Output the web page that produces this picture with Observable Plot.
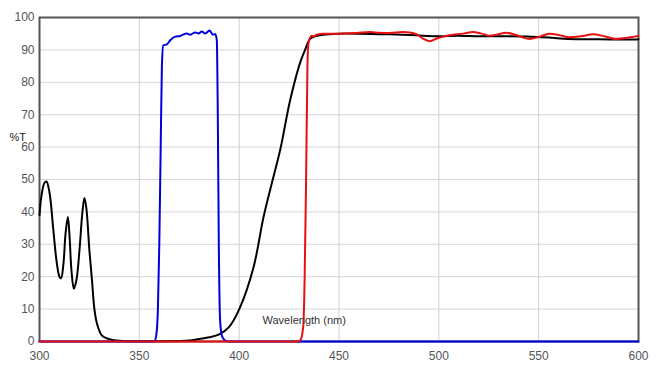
<!DOCTYPE html>
<html>
<head>
<meta charset="utf-8">
<script src="https://cdn.jsdelivr.net/npm/d3@7"></script>
<script src="https://cdn.jsdelivr.net/npm/@observablehq/plot@0.6"></script>
<style>
  html, body { margin: 0; padding: 0; background: #fff; }
  #chart svg { display: block; font-family: "Liberation Sans", Arial, sans-serif; }
</style>
</head>
<body>
<div id="chart"></div>
<script>
// Wavelength (nm) and %T for each curve
const blackWl = [300,301,302.5,303.5,305,307,308.5,310,310.8,312,313,314.2,315,316,317.2,318.5,320,321.5,322.5,323.5,325,326.3,327.5,328.8,331.3,335.5,340,360,375,380,385,390,395,400.5,407.2,412.2,416,420.5,425.5,430.5,433,435.5,438,442,450,460,475,485,492,500,510,520,530,544,555,565,580,598,600];
const blackT  = [39,45,49,49.4,46,34,25,20,19.5,24,33,38.4,33,22,16.3,19,28,40,44.3,41,28,18.8,10,5.5,1.8,0.6,0.2,0.1,0.3,0.8,1.3,2.2,4.5,10.6,22.9,38.4,48,59,74.4,86,90,93.4,94.2,94.7,95,95,94.8,94.6,94.4,94.2,94.4,94.2,94.2,94.1,93.8,93.4,93.3,93.2,93.3];

const blueWl = [300,357.5,358.5,359.3,360,360.7,361.3,362,363.8,365.5,368,370.5,373.8,375.5,378,379.7,381.3,383,385.2,386.8,388,388.8,389.3,389.8,390.5,391.5,393,395,600];
const blueT  = [0,0,2,10,30,60,85,91.4,91.7,93,94.1,94.3,95.1,94.7,95.4,95.1,95.7,95.1,96,94.7,94.9,93,70,30,6,1.5,0.3,0,0];

const redWl = [300,429,430.5,431.5,432.2,432.8,433.5,434.2,434.7,436.3,437.2,438.5,442.2,450.5,458.8,465.5,470,475.5,482,485.5,489,492,495.5,499,502.2,508.8,513,517,521,525.5,529,533.8,539,545.5,550,555.5,560,565.5,571,577.2,583,588.8,594,598,600];
const redT  = [0,0,0.3,2,5.5,20,48.8,85,92,94.4,94.1,94.6,95,95,95.2,95.5,95.3,95.2,95.5,95.4,94.8,93.5,92.7,93.5,94.1,94.8,95.1,95.5,95.1,94.4,94.7,95.3,94.5,93.4,94,95,94.6,93.9,94.2,94.8,94.2,93.4,93.7,94.1,94.3];

const xTicks = [300,350,400,450,500,550,600];
const yTicks = [0,10,20,30,40,50,60,70,80,90,100];
const xLabel = "Wavelength (nm)";
const yLabel = "%T";

const toRows = (wl, t) => wl.map((w, i) => ({w, t: t[i]}));
const black = toRows(blackWl, blackT);
const blue = toRows(blueWl, blueT);
const red = toRows(redWl, redT);

const chart = Plot.plot({
  width: 659,
  height: 376,
  marginLeft: 39,
  marginRight: 21,
  marginTop: 17,
  marginBottom: 35,
  style: {fontFamily: "Liberation Sans, Arial, sans-serif", fontSize: "12px", color: "#555", background: "#fff"},
  x: {domain: [300, 600]},
  y: {domain: [0, 100]},
  marks: [
    Plot.gridX(xTicks, {stroke: "#cfcfcf", strokeOpacity: 1}),
    Plot.gridY(yTicks, {stroke: "#d6d6d6", strokeOpacity: 1}),
    Plot.axisX(xTicks, {tickSize: 0, tickPadding: 10, label: null, fill: "#555", fontSize: 12}),
    Plot.axisY(yTicks, {tickSize: 0, tickPadding: 5, label: null, fill: "#555", fontSize: 12}),
    Plot.frame({stroke: "#555", strokeWidth: 2}),
    Plot.line(black, {x: "w", y: "t", stroke: "#000", strokeWidth: 2, curve: "catmull-rom"}),
    Plot.line(blue, {x: "w", y: "t", stroke: "#0000dd", strokeWidth: 2, curve: "monotone-x"}),
    Plot.line(red, {x: "w", y: "t", stroke: "#e81010", strokeWidth: 2, curve: "monotone-x"}),
    Plot.text([xLabel], {frameAnchor: "bottom-left", dx: 223, dy: -18, textAnchor: "start", fontSize: 11, fill: "#333"}),
    Plot.text([yLabel], {frameAnchor: "left", dx: -30, dy: -42, textAnchor: "start", fontSize: 11, fill: "#222"})
  ]
});
document.getElementById("chart").appendChild(chart);
</script>
</body>
</html>
